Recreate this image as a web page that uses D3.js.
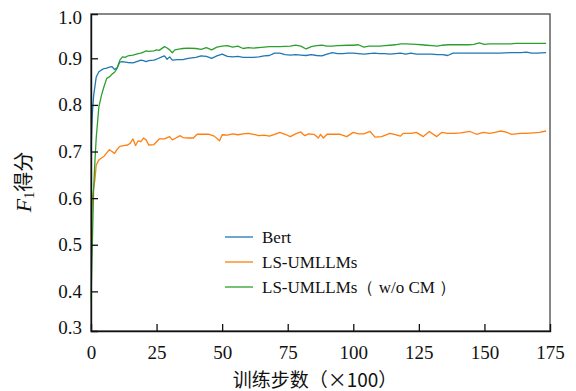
<!DOCTYPE html>
<meta charset='utf-8'>
<style>
	body { margin: 0; background: #fff; }
	svg { display: block; }
</style>
<body>
<div id='container'></div>
<script src='https://d3js.org/d3.v7.min.js'></script>
<script>
	// step (x100), F1 score
	const bert = [
		[0, 0.70], [0.5, 0.78], [1, 0.82], [2, 0.86], [3, 0.871], [4, 0.875], [5, 0.878], [6, 0.879], [7, 0.881],
		[8, 0.882], [9, 0.876], [10, 0.880], [11, 0.892], [12, 0.893], [13, 0.892], [14, 0.891], [16, 0.890],
		[18, 0.894], [19, 0.896], [20, 0.895], [21, 0.893], [22, 0.895], [24, 0.896], [25, 0.898], [27, 0.903],
		[28, 0.905], [29, 0.898], [30, 0.903], [31, 0.896], [33, 0.897], [35, 0.897], [37, 0.900], [40, 0.902],
		[42, 0.905], [44, 0.904], [46, 0.900], [48, 0.905], [50, 0.909], [52, 0.904], [54, 0.903], [56, 0.904],
		[58, 0.902], [60, 0.902], [62, 0.902], [64, 0.903], [66, 0.905], [68, 0.906], [70, 0.911], [72, 0.911],
		[74, 0.908], [76, 0.907], [78, 0.908], [80, 0.907], [82, 0.906], [84, 0.908], [86, 0.906], [88, 0.905],
		[90, 0.909], [92, 0.912], [94, 0.910], [96, 0.910], [98, 0.911], [100, 0.911], [102, 0.910], [104, 0.909],
		[106, 0.910], [108, 0.911], [110, 0.910], [112, 0.910], [114, 0.909], [116, 0.910], [118, 0.911],
		[120, 0.909], [122, 0.911], [124, 0.909], [126, 0.909], [128, 0.909], [130, 0.909], [132, 0.908],
		[134, 0.908], [136, 0.906], [138, 0.911], [140, 0.911], [144, 0.911], [148, 0.911], [152, 0.911],
		[156, 0.911], [160, 0.912], [164, 0.912], [166, 0.913], [168, 0.911], [170, 0.911], [173.5, 0.912],
	];

	const lsUmllms = [
		[0, 0.51], [0.5, 0.60], [1, 0.62], [1.5, 0.64], [2, 0.671], [3, 0.682], [4, 0.686], [5, 0.690], [6, 0.697],
		[7, 0.704], [8, 0.700], [9, 0.696], [10, 0.705], [11, 0.711], [12, 0.712], [13, 0.713], [14, 0.714],
		[15, 0.718], [16, 0.727], [17, 0.713], [18, 0.723], [19, 0.721], [20, 0.729], [21, 0.725], [22, 0.714],
		[24, 0.715], [26, 0.727], [28, 0.727], [30, 0.732], [31, 0.725], [32, 0.728], [34, 0.734], [35, 0.730],
		[37, 0.729], [39, 0.729], [40.5, 0.737], [43, 0.737], [45, 0.737], [47, 0.733], [49, 0.723], [50, 0.736],
		[52, 0.735], [54, 0.738], [56, 0.736], [58, 0.738], [60, 0.739], [62, 0.737], [64, 0.734], [66, 0.735],
		[68, 0.733], [70, 0.737], [72, 0.741], [74, 0.737], [76, 0.732], [78, 0.738], [80, 0.742], [81.5, 0.734],
		[83, 0.738], [85, 0.737], [86.7, 0.729], [87.5, 0.737], [88.6, 0.729], [90, 0.737], [92, 0.737],
		[95, 0.737], [97.5, 0.732], [100, 0.741], [102, 0.738], [104, 0.738], [106.4, 0.743], [108.3, 0.731],
		[110.8, 0.732], [114, 0.739], [116, 0.736], [118, 0.733], [119, 0.739], [122, 0.739], [124, 0.741],
		[126.7, 0.732], [129, 0.743], [131.8, 0.732], [133.7, 0.741], [136, 0.739], [138, 0.739], [141, 0.740],
		[144.5, 0.743], [147, 0.737], [149.6, 0.741], [152, 0.739], [154, 0.741], [156, 0.744], [158, 0.742],
		[160.4, 0.737], [163.6, 0.739], [166, 0.739], [168.6, 0.740], [171, 0.741], [173.5, 0.744],
	];

	const lsUmllmsNoCm = [
		[0, 0.38], [0.5, 0.50], [1, 0.62], [1.5, 0.68], [2, 0.73], [3, 0.796], [4, 0.821], [5, 0.840], [6, 0.857],
		[7, 0.860], [8, 0.866], [9, 0.870], [10, 0.879], [11, 0.896], [12, 0.903], [13, 0.902], [14, 0.905],
		[16, 0.907], [18, 0.910], [19, 0.911], [20, 0.913], [21, 0.916], [22, 0.915], [24, 0.916], [25, 0.918],
		[26, 0.917], [28, 0.925], [29, 0.922], [30, 0.918], [31, 0.912], [32, 0.918], [34, 0.920], [35, 0.921],
		[37, 0.922], [40, 0.921], [42, 0.919], [44, 0.923], [46, 0.918], [48, 0.924], [50, 0.926], [52, 0.927],
		[54, 0.924], [56, 0.926], [58, 0.921], [60, 0.923], [62, 0.922], [64, 0.923], [66, 0.924], [68, 0.925],
		[72, 0.925], [76, 0.926], [78, 0.928], [80, 0.926], [82, 0.920], [84, 0.925], [86, 0.927], [88, 0.928],
		[90, 0.926], [92, 0.926], [94, 0.927], [98, 0.928], [100, 0.928], [102, 0.929], [104, 0.924], [106, 0.926],
		[110, 0.926], [112, 0.927], [114, 0.928], [116, 0.929], [118, 0.931], [120, 0.931], [124, 0.930],
		[126, 0.929], [128, 0.928], [130, 0.927], [132, 0.926], [134, 0.928], [136, 0.929], [144, 0.929],
		[146, 0.930], [148, 0.933], [150, 0.930], [152, 0.931], [160, 0.931], [162, 0.932], [173.5, 0.932],
	];

	const seriesNames = [ 'Bert', 'LS-UMLLMs', 'LS-UMLLMs（ w/o CM ）' ];
	const seriesColors = [ '#1f77b4', '#ff7f0e', '#2ca02c' ];
	const xTicks = [ 0, 25, 50, 75, 100, 125, 150, 175 ];
	const yTicks = [ 0.3, 0.4, 0.5, 0.6, 0.7, 0.8, 0.9, 1.0 ];

	const W = 576, H = 391;
	const margin = { top: 14, left: 91, right: 26, bottom: 60 },
		width = W - margin.left - margin.right,
		height = H - margin.top - margin.bottom;
	const serif = "'Liberation Serif', 'Times New Roman', serif",
		cjk = "'Noto Sans CJK SC', sans-serif";

	const xScale = d3.scaleLinear()
		.domain( [0, 175] )
		.range( [0, width] );
	// frame ends sit a little inside 0.3 / 1.0, the end labels are pinned to the frame
	const yScale = d3.scaleLinear()
		.domain( [0.315, 0.995] )
		.range( [height, 0] )
		.clamp( true );

	const svg = d3.select( '#container' )
		.append( 'svg' )
		.attr( 'width', W )
		.attr( 'height', H )
		.append( 'g' )
			.attr( 'transform', `translate( ${margin.left}, ${margin.top} )` );

	// grey frame (top/right)
	svg.append( 'rect' )
		.attr( 'width', width )
		.attr( 'height', height )
		.style( 'fill', 'none' )
		.style( 'stroke', '#555' )
		.style( 'stroke-width', 1.4 );

	const line = d3.line()
		.x( d => xScale( d[0] ) )
		.y( d => yScale( d[1] ) );

	const allSeries = [ bert, lsUmllms, lsUmllmsNoCm ];

	svg.append( 'g' )
		.selectAll( 'path' )
		.data( allSeries )
		.enter().append( 'path' )
			.attr( 'd', d => line( d ) )
			.style( 'fill', 'none' )
			.style( 'stroke', ( d, i ) => seriesColors[i] )
			.style( 'stroke-width', 1.3 )
			.style( 'stroke-linejoin', 'round' );

	const xAxis = d3.axisBottom( xScale )
		.tickValues( xTicks )
		.tickSize( -7 )
		.tickPadding( 15 )
		.tickFormat( d3.format( 'd' ) );

	const yAxis = d3.axisLeft( yScale )
		.tickValues( yTicks )
		.tickSize( -7 )
		.tickPadding( 9 )
		.tickFormat( d3.format( '.1f' ) );

	const xAxisEl = svg.append( 'g' )
		.attr( 'transform', `translate( 0, ${height} )` )
		.call( xAxis );
	const yAxisEl = svg.append( 'g' )
		.call( yAxis );

	[ xAxisEl, yAxisEl ].forEach( el => {
		el.attr( 'font-family', serif ).attr( 'font-size', 19 );
		el.selectAll( '.tick text' ).style( 'fill', '#111' );
		el.select( '.domain' ).style( 'stroke', '#111' ).style( 'stroke-width', 1.4 );
		el.selectAll( '.tick line' ).style( 'stroke', '#111' ).style( 'stroke-width', 1.3 );
	} );
	// hide tick marks sitting on the frame
	xAxisEl.selectAll( '.tick line' ).filter( d => d === 0 || d === 175 ).remove();
	yAxisEl.selectAll( '.tick line' ).filter( d => d === 0.3 || d === 1.0 ).remove();
	yAxisEl.selectAll( '.tick' ).filter( d => d === 1.0 ).select( 'text' ).attr( 'dy', '0.5em' );
	yAxisEl.selectAll( '.tick' ).filter( d => d === 0.3 ).select( 'text' ).attr( 'dy', '0.15em' );

	// axis titles
	svg.append( 'text' )
		.attr( 'x', 224 )
		.attr( 'y', height + 51 )
		.attr( 'text-anchor', 'middle' )
		.attr( 'dominant-baseline', 'middle' )
		.style( 'font-family', cjk )
		.style( 'font-size', '19px' )
		.style( 'fill', '#111' )
		.text( '训练步数（×100）' );

	const yTitle = svg.append( 'text' )
		.attr( 'transform', `translate( ${26 - margin.left}, ${182 - margin.top} ) rotate( -90 )` )
		.attr( 'text-anchor', 'middle' )
		.attr( 'dominant-baseline', 'middle' )
		.style( 'font-size', '20px' )
		.style( 'fill', '#111' );
	yTitle.append( 'tspan' )
		.style( 'font-family', serif )
		.style( 'font-style', 'italic' )
		.style( 'font-size', '22px' )
		.text( 'F' );
	yTitle.append( 'tspan' )
		.style( 'font-family', serif )
		.style( 'font-size', '14px' )
		.attr( 'dy', 5 )
		.text( '1' );
	yTitle.append( 'tspan' )
		.style( 'font-family', cjk )
		.attr( 'dy', -5 )
		.text( '得分' );

	// legend
	const legend = svg.append( 'g' )
		.attr( 'transform', `translate( ${225 - margin.left}, ${237 - margin.top} )` )
		.selectAll( '.legend' )
		.data( seriesNames )
		.enter().append( 'g' )
			.attr( 'class', 'legend' )
			.attr( 'transform', ( d, i ) => `translate( 0, ${i * 25} )` );

	legend.append( 'line' )
		.attr( 'x1', 0 )
		.attr( 'x2', 28 )
		.style( 'stroke', ( d, i ) => seriesColors[i] )
		.style( 'stroke-width', 1.3 );

	legend.append( 'text' )
		.attr( 'x', 37 )
		.attr( 'dy', '0.35em' )
		.style( 'font-family', serif )
		.style( 'font-size', '17px' )
		.style( 'fill', '#111' )
		.text( d => d );
</script>
</body>
